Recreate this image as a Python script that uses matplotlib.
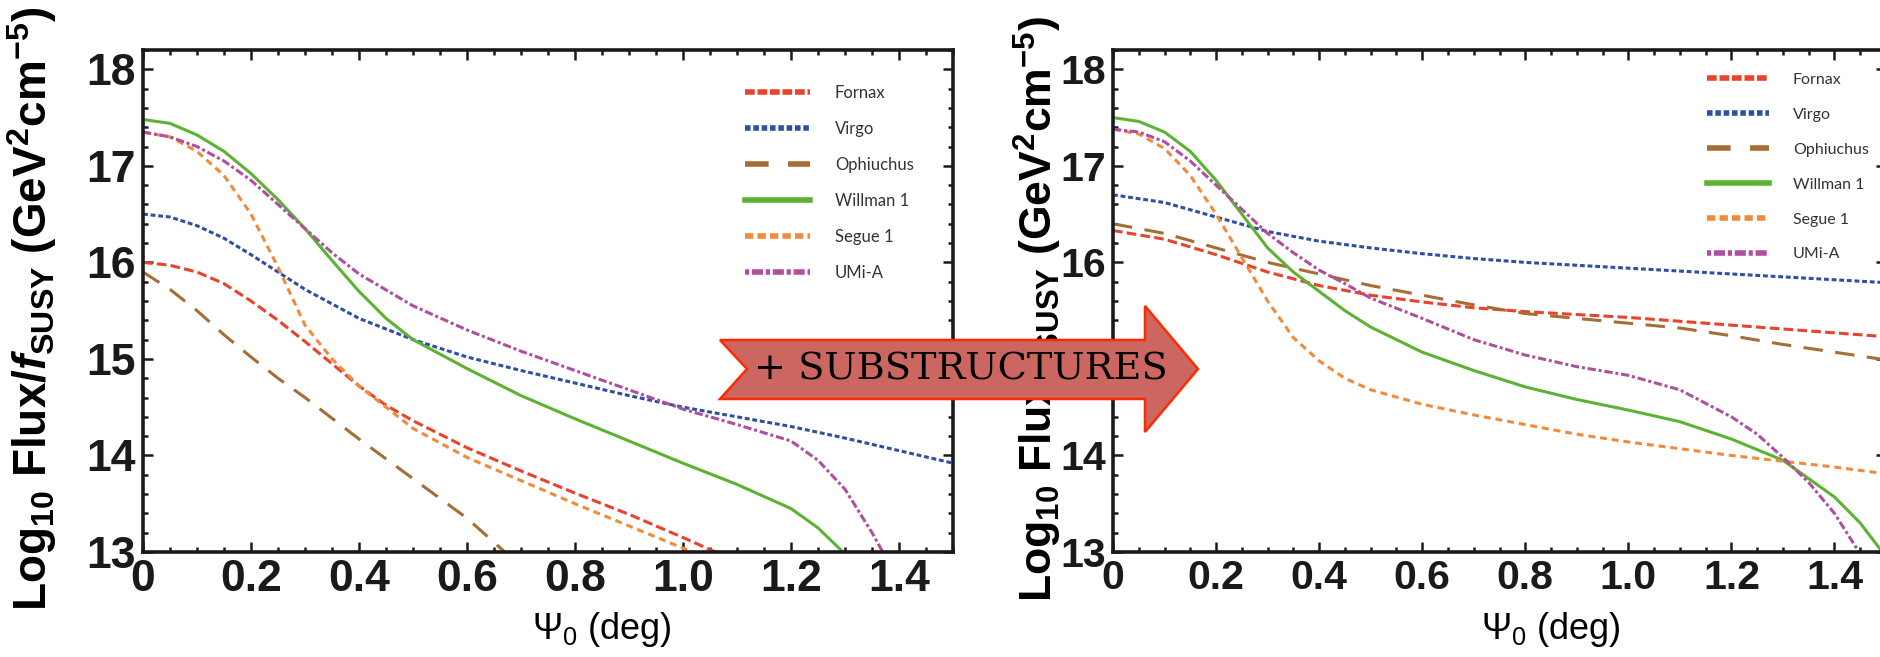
import numpy as np
import matplotlib
matplotlib.use('Agg')
import matplotlib.pyplot as plt
from matplotlib.ticker import MultipleLocator, FuncFormatter
from matplotlib.patches import Polygon

plt.rcParams['font.family'] = ['Liberation Sans', 'DejaVu Sans']
plt.rcParams['font.weight'] = 'bold'
plt.rcParams['mathtext.fontset'] = 'custom'
plt.rcParams['mathtext.rm'] = 'Liberation Sans:bold'
plt.rcParams['mathtext.it'] = 'Liberation Sans:bold:italic'
plt.rcParams['mathtext.bf'] = 'Liberation Sans:bold'
plt.rcParams['lines.scale_dashes'] = False

# ---- data: left panel (no substructures) ----
fornax_x_l = [0, 0.05, 0.1, 0.15, 0.2, 0.25, 0.3, 0.35, 0.4, 0.45, 0.5, 0.6, 0.7, 0.8, 0.9, 1.0, 1.1]
fornax_y_l = [16.0, 15.97, 15.9, 15.78, 15.6, 15.4, 15.18, 14.95, 14.72, 14.52, 14.36, 14.08, 13.84, 13.61, 13.39, 13.15, 12.9]
virgo_x_l = [0, 0.05, 0.1, 0.15, 0.2, 0.25, 0.3, 0.4, 0.5, 0.6, 0.7, 0.8, 0.9, 1.0, 1.1, 1.2, 1.3, 1.4, 1.5]
virgo_y_l = [16.5, 16.47, 16.38, 16.25, 16.08, 15.9, 15.72, 15.42, 15.2, 15.02, 14.88, 14.75, 14.62, 14.5, 14.4, 14.3, 14.18, 14.05, 13.92]
ophi_x_l = [0, 0.05, 0.1, 0.15, 0.2, 0.25, 0.3, 0.4, 0.5, 0.6, 0.7]
ophi_y_l = [15.9, 15.72, 15.5, 15.25, 15.02, 14.8, 14.6, 14.17, 13.76, 13.35, 12.85]
willman_x_l = [0, 0.05, 0.1, 0.15, 0.2, 0.25, 0.3, 0.35, 0.4, 0.45, 0.5, 0.6, 0.7, 0.8, 0.9, 1.0, 1.1, 1.2, 1.25, 1.3]
willman_y_l = [17.48, 17.44, 17.32, 17.15, 16.92, 16.65, 16.35, 16.02, 15.7, 15.42, 15.2, 14.9, 14.62, 14.38, 14.15, 13.92, 13.7, 13.45, 13.25, 12.98]
segue_x_l = [0, 0.05, 0.1, 0.15, 0.2, 0.25, 0.3, 0.35, 0.4, 0.45, 0.5, 0.6, 0.7, 0.8, 0.9, 1.0, 1.05]
segue_y_l = [17.35, 17.3, 17.15, 16.9, 16.5, 15.95, 15.35, 15.0, 14.72, 14.5, 14.28, 13.98, 13.74, 13.5, 13.27, 13.04, 12.92]
umi_x_l = [0, 0.05, 0.1, 0.15, 0.2, 0.25, 0.3, 0.35, 0.4, 0.5, 0.6, 0.7, 0.8, 0.9, 1.0, 1.1, 1.2, 1.25, 1.3, 1.35, 1.4]
umi_y_l = [17.35, 17.3, 17.2, 17.05, 16.85, 16.6, 16.35, 16.1, 15.88, 15.55, 15.3, 15.08, 14.88, 14.68, 14.48, 14.32, 14.15, 13.95, 13.65, 13.2, 12.7]

# ---- data: right panel (with substructures) ----
fornax_x_r = [0, 0.1, 0.2, 0.3, 0.4, 0.5, 0.6, 0.7, 0.8, 0.9, 1.0, 1.1, 1.2, 1.3, 1.4, 1.5]
fornax_y_r = [16.33, 16.24, 16.08, 15.9, 15.76, 15.66, 15.59, 15.53, 15.49, 15.46, 15.43, 15.39, 15.35, 15.31, 15.27, 15.23]
virgo_x_r = [0, 0.1, 0.2, 0.3, 0.4, 0.5, 0.6, 0.7, 0.8, 0.9, 1.0, 1.1, 1.2, 1.3, 1.4, 1.5]
virgo_y_r = [16.7, 16.62, 16.47, 16.32, 16.22, 16.15, 16.09, 16.04, 16.0, 15.97, 15.94, 15.91, 15.88, 15.85, 15.82, 15.79]
ophi_x_r = [0, 0.1, 0.2, 0.3, 0.4, 0.5, 0.6, 0.7, 0.8, 0.9, 1.0, 1.1, 1.2, 1.3, 1.4, 1.5]
ophi_y_r = [16.4, 16.3, 16.15, 16.0, 15.88, 15.76, 15.66, 15.56, 15.47, 15.42, 15.37, 15.32, 15.24, 15.15, 15.07, 14.99]
willman_x_r = [0, 0.05, 0.1, 0.15, 0.2, 0.25, 0.3, 0.35, 0.4, 0.45, 0.5, 0.6, 0.7, 0.8, 0.9, 1.0, 1.1, 1.2, 1.3, 1.4, 1.45, 1.5]
willman_y_r = [17.5, 17.46, 17.35, 17.15, 16.85, 16.5, 16.15, 15.9, 15.7, 15.5, 15.33, 15.07, 14.88, 14.71, 14.58, 14.47, 14.35, 14.17, 13.95, 13.57, 13.3, 12.95]
segue_x_r = [0, 0.05, 0.1, 0.15, 0.2, 0.25, 0.3, 0.35, 0.4, 0.45, 0.5, 0.6, 0.7, 0.8, 0.9, 1.0, 1.1, 1.2, 1.3, 1.4, 1.5]
segue_y_r = [17.38, 17.33, 17.18, 16.9, 16.5, 16.05, 15.6, 15.22, 14.98, 14.8, 14.68, 14.53, 14.42, 14.32, 14.22, 14.14, 14.07, 14.0, 13.94, 13.88, 13.81]
umi_x_r = [0, 0.05, 0.1, 0.15, 0.2, 0.25, 0.3, 0.35, 0.4, 0.45, 0.5, 0.6, 0.7, 0.8, 0.9, 1.0, 1.1, 1.2, 1.25, 1.3, 1.35, 1.4, 1.45]
umi_y_r = [17.38, 17.35, 17.25, 17.05, 16.8, 16.55, 16.3, 16.1, 15.92, 15.78, 15.63, 15.42, 15.2, 15.04, 14.92, 14.83, 14.68, 14.4, 14.22, 13.98, 13.72, 13.4, 12.98]

names = ['Fornax', 'Virgo', 'Ophiuchus', 'Willman 1', 'Segue 1', 'UMi-A']
colors = ['#E8432D', '#2E4FA3', '#A56E34', '#5DB233', '#F28A3C', '#B04FA0']
styles = [(0, (7, 3)), (0, (3.5, 2)), (0, (14, 9)), '-', (0, (5, 3.5)), (0, (6, 2, 2.2, 2))]
# legend keys are drawn thicker, with their own dash lengths
leg_styles = [(0, (7, 2)), (0, (4, 2)), (0, (17, 14)), '-', (0, (6, 3)), (0, (3, 2, 8, 2))]

left_data = [(fornax_x_l, fornax_y_l), (virgo_x_l, virgo_y_l), (ophi_x_l, ophi_y_l),
             (willman_x_l, willman_y_l), (segue_x_l, segue_y_l), (umi_x_l, umi_y_l)]
right_data = [(fornax_x_r, fornax_y_r), (virgo_x_r, virgo_y_r), (ophi_x_r, ophi_y_r),
              (willman_x_r, willman_y_r), (segue_x_r, segue_y_r), (umi_x_r, umi_y_r)]

W, H = 1881, 657
fig = plt.figure(figsize=(W / 100, H / 100), dpi=100)

# axes boxes in pixels (left, top, right, bottom)
box_l = (143, 50, 953, 552)
box_r = (1113, 50, 1886, 552)


def px_axes(b):
    return [b[0] / W, 1 - b[3] / H, (b[2] - b[0]) / W, (b[3] - b[1]) / H]


ylab = r"Log$_{10}$ Flux/$f_{\rm SUSY}$ (GeV$^2$cm$^{-5}$)"


def setup(ax, data, leg_anchor, leg_size, leg_space, ylab_x, lab_size, tick_size):
    for (x, y), nm, c, ls in zip(data, names, colors, styles):
        ax.plot(x, y, color=c, ls=ls, lw=2.2, label=nm)
    ax.set_xlim(0, 1.5)
    ax.set_ylim(13, 18.2)
    ax.xaxis.set_major_locator(MultipleLocator(0.2))
    ax.xaxis.set_minor_locator(MultipleLocator(0.05))
    ax.yaxis.set_major_locator(MultipleLocator(1))
    ax.yaxis.set_minor_locator(MultipleLocator(0.2))
    ax.xaxis.set_major_formatter(FuncFormatter(lambda v, p: '0' if abs(v) < 1e-9 else f'{v:.1f}'))
    ax.tick_params(which='both', direction='in', top=True, right=True, width=1.8, colors='#1a1a1a')
    ax.tick_params(which='major', length=7, labelsize=tick_size, pad=5)
    ax.tick_params(which='minor', length=3.5)
    for s in ax.spines.values():
        s.set_linewidth(2.6)
        s.set_color('#1a1a1a')
    ax.set_xlabel(r"Ψ$_{\mathregular{0}}$ (deg)", fontsize=26, fontweight='normal')
    ax.xaxis.set_label_coords(0.566, -0.115)
    ax.set_ylabel(ylab, fontsize=lab_size, fontweight='bold')
    ax.yaxis.set_label_coords(ylab_x, 0.485)
    leg = ax.legend(loc='upper left', bbox_to_anchor=leg_anchor, frameon=False,
                    prop={'family': 'Lato', 'weight': 'normal', 'size': leg_size},
                    handlelength=3.9, handletextpad=1.5, labelspacing=leg_space,
                    borderpad=0, borderaxespad=0)
    for t in leg.get_texts():
        t.set_color('#333333')
    for h, ls in zip(leg.legend_handles, leg_styles):
        h.set_linewidth(4)
        h.set_linestyle(ls)


ax1 = fig.add_axes(px_axes(box_l))
setup(ax1, left_data, (0.743, 0.93), 12, 1.2, -0.104, 33, 32)
ax2 = fig.add_axes(px_axes(box_r))
setup(ax2, right_data, (0.768, 0.955), 11.5, 1.3, -0.064, 32, 29.5)

# "+ SUBSTRUCTURES" arrow (pixel outline)
arrow_px = [(720, 340), (1145, 340), (1145, 306), (1198, 369), (1145, 432),
            (1145, 399), (720, 399), (747, 369)]
arrow = Polygon([(x / W, 1 - y / H) for x, y in arrow_px], closed=True,
                transform=fig.transFigure, facecolor='#CC6660', edgecolor='#FF2A00',
                linewidth=1.8, zorder=10)
fig.add_artist(arrow)
fig.text(961 / W, 1 - 369 / H, '+ SUBSTRUCTURES', ha='center', va='center',
         family='DejaVu Serif', fontweight='normal', fontsize=27.5, color='black', zorder=11)

fig.savefig('out.png', dpi=100)
